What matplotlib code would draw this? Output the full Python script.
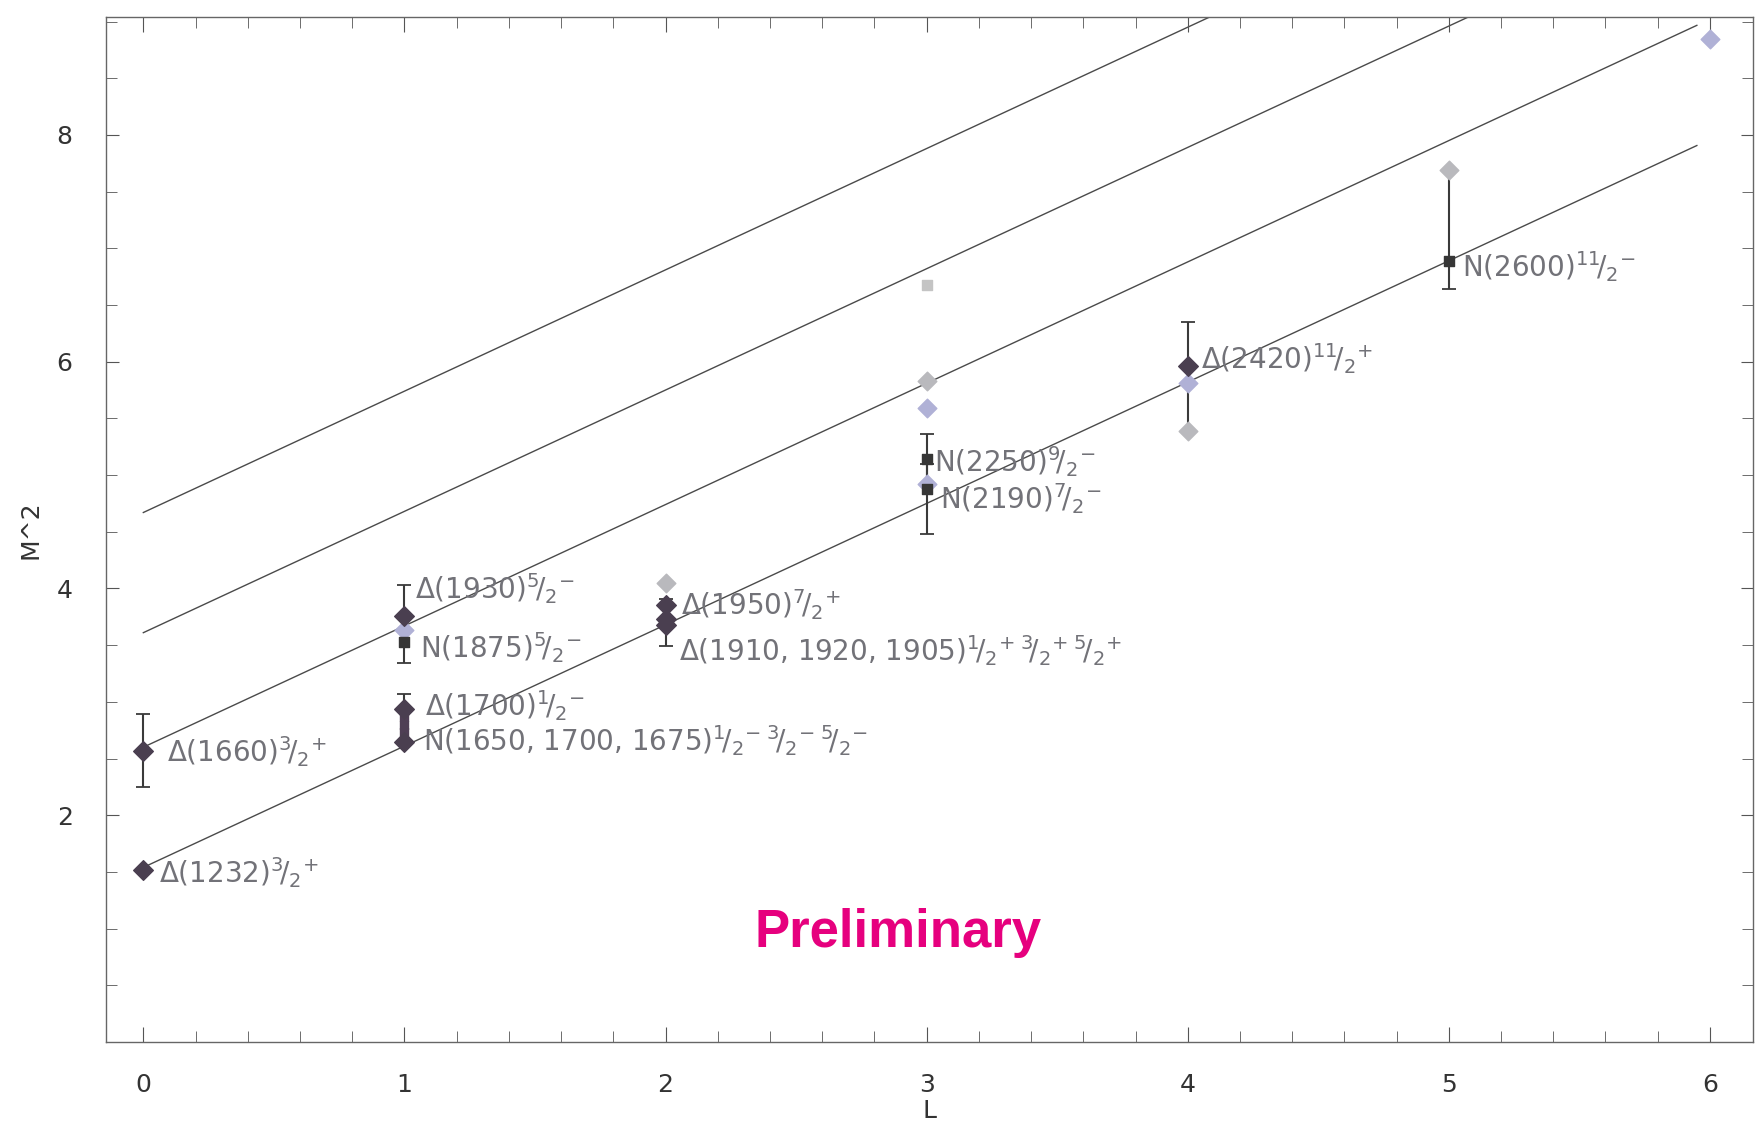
import numpy as np
import matplotlib
matplotlib.use("Agg")
import matplotlib.pyplot as plt
from matplotlib.ticker import MultipleLocator

# ============================================================
# data
# ============================================================
SLOPE       = 1.07
INTERCEPTS  = [1.54, 2.60, 3.61, 4.67]      # four parallel trajectories
LINE_X_END  = 5.95

# dark diamonds
DARK_X = [0, 0, 1, 1, 1, 2, 2, 2, 4]
DARK_Y = [1.52, 2.57, 3.76, 2.94, 2.65, 3.85, 3.73, 3.68, 5.96]

# overlapping states between the dark diamonds at L=1
STACK_X = [1, 1, 1]
STACK_Y = [2.87, 2.80, 2.73]

# light grey diamonds
GREY_X = [2, 3, 4, 5]
GREY_Y = [4.05, 5.83, 5.39, 7.69]

# lavender diamonds
LAV_X = [1, 3, 3, 4, 6]
LAV_Y = [3.63, 5.59, 4.92, 5.81, 8.85]

# dark squares
SQ_X = [1, 3, 3, 5]
SQ_Y = [3.53, 5.14, 4.88, 6.89]

# light square
LSQ_X = [3]
LSQ_Y = [6.68]

# error bars: centre, low end, high end
ERR_X  = [0, 1, 1, 2, 3, 3, 4, 5]
ERR_Y  = [2.57, 3.76, 2.85, 3.73, 5.14, 4.88, 5.96, 6.89]
ERR_LO = [2.25, 3.34, 2.65, 3.49, 4.92, 4.48, 5.39, 6.64]
ERR_HI = [2.89, 4.03, 3.07, 3.91, 5.36, 5.10, 6.35, 7.69]

LABELS = [
    (0.06, 1.49, r"$\Delta$(1232)$^{3}\!/_{2}{}^{+}$"),
    (0.09, 2.56, r"$\Delta$(1660)$^{3}\!/_{2}{}^{+}$"),
    (1.04, 4.00, r"$\Delta$(1930)$^{5}\!/_{2}{}^{-}$"),
    (1.06, 3.48, r"N(1875)$^{5}\!/_{2}{}^{-}$"),
    (1.08, 2.97, r"$\Delta$(1700)$^{1}\!/_{2}{}^{-}$"),
    (1.07, 2.66, r"N(1650, 1700, 1675)$^{1}\!/_{2}{}^{-}\,^{3}\!/_{2}{}^{-}\,^{5}\!/_{2}{}^{-}$"),
    (2.06, 3.86, r"$\Delta$(1950)$^{7}\!/_{2}{}^{+}$"),
    (2.05, 3.45, r"$\Delta$(1910, 1920, 1905)$^{1}\!/_{2}{}^{+}\,^{3}\!/_{2}{}^{+}\,^{5}\!/_{2}{}^{+}$"),
    (3.03, 5.12, r"N(2250)$^{9}\!/_{2}{}^{-}$"),
    (3.05, 4.79, r"N(2190)$^{7}\!/_{2}{}^{-}$"),
    (4.05, 6.03, r"$\Delta$(2420)$^{11}\!/_{2}{}^{+}$"),
    (5.05, 6.84, r"N(2600)$^{11}\!/_{2}{}^{-}$"),
]

fig = plt.figure(figsize=(17.56, 11.21), dpi=100)
ax = fig.add_axes([106 / 1756, 1 - 1042 / 1121, (1753 - 106) / 1756, (1042 - 17) / 1121])

# trajectories
xl = np.array([0, LINE_X_END])
for b in INTERCEPTS:
    ax.plot(xl, b + SLOPE * xl, color="#4a4a4a", lw=1.0, zorder=1)

# error bars
yerr = [np.array(ERR_Y) - np.array(ERR_LO), np.array(ERR_HI) - np.array(ERR_Y)]
ax.errorbar(ERR_X, ERR_Y, yerr=yerr, fmt="none", ecolor="#3a3a3a",
            elinewidth=1.5, capsize=5, capthick=1.3, zorder=2)

# markers
ax.scatter(GREY_X, GREY_Y, marker="D", s=90, color="#b9b9bd", zorder=3)
ax.scatter(LAV_X, LAV_Y, marker="D", s=90, color="#b0b1d6", zorder=3)
ax.scatter(LSQ_X, LSQ_Y, marker="s", s=45, color="#c4c4c4", zorder=3)
ax.scatter(STACK_X, STACK_Y, marker="s", s=40, color="#4f3f55", zorder=4)
ax.scatter(DARK_X, DARK_Y, marker="D", s=100, color="#4a3f50", zorder=4)
ax.scatter(SQ_X, SQ_Y, marker="s", s=50, color="#363636", zorder=5)

# hand-written annotations
for x, y, s in LABELS:
    ax.text(x, y, s, fontsize=20, color="#727278", va="center", ha="left", zorder=6)

ax.text(2.89, 0.96, "Preliminary", fontsize=38, fontweight="bold",
        family="Liberation Sans", color="#e6007e", ha="center", va="center")

ax.set_xlim(-0.143, 6.165)
ax.set_ylim(0, 9.04)
ax.set_xticks(range(7))
ax.set_yticks([2, 4, 6, 8])
ax.xaxis.set_minor_locator(MultipleLocator(0.2))
ax.yaxis.set_minor_locator(MultipleLocator(0.5))
ax.tick_params(which="both", direction="in", top=True, right=True,
               color="#555555", labelsize=18, labelcolor="#333333")
ax.tick_params(axis="x", which="major", length=11, pad=22)
ax.tick_params(axis="y", which="major", length=9, pad=24)
ax.tick_params(which="minor", length=8)
for sp in ax.spines.values():
    sp.set_color("#666666")
    sp.set_linewidth(1.0)

ax.set_xlabel("L", fontsize=18, color="#333333", labelpad=2)
ax.set_ylabel("M^2", fontsize=18, color="#333333", labelpad=10)

fig.savefig("out.png", dpi=100)
